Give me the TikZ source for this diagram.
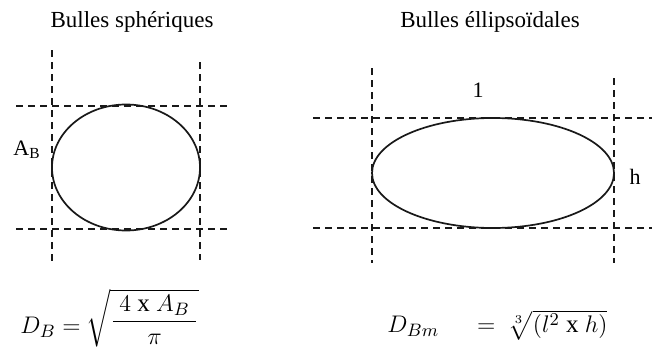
\documentclass[tikz,border=0pt]{standalone}
\usepackage{amsmath}
\usepackage{fontspec}
\setmainfont{Liberation Serif}
\usepackage{tikz}
\usetikzlibrary{arrows.meta, positioning, calc}

\tikzset{
  guide/.style={black!90, line width=0.6pt, dash pattern=on 3.5pt off 2.5pt},
  bubble/.style={line width=0.85pt, black!90},
  heading/.style={font=\fontsize{11.5}{13}\selectfont, inner sep=0pt},
  dimlabel/.style={font=\fontsize{11}{13}\selectfont, inner sep=1pt},
  formula/.style={font=\fontsize{12.5}{14}\selectfont, inner sep=0pt}
}

\begin{document}
\begin{tikzpicture}[>=Stealth, x=0.5pt, y=-0.5pt]
  \useasboundingbox (0,0) rectangle (652,354);

  % titles
  \node[heading] (tsph) at (132,22) {Bulles sphériques};
  \node[heading] (tell) at (490,22) {Bulles éllipsoïdales};

  % spherical bubble: guide lines
  \draw[guide] (52,50) -- (52,263);
  \draw[guide] (200,62) -- (200,260);
  \draw[guide] (16,106) -- (230,106);
  \draw[guide] (16,229) -- (230,229);

  % spherical bubble: outline
  \coordinate (csph) at (126,167.5);
  \draw[bubble] (csph) ellipse [x radius=37pt, y radius=31.5pt];
  \node[dimlabel] (AB) at (27,150) {$\mathrm{A_B}$};

  % ellipsoidal bubble: guide lines
  \draw[guide] (372,68) -- (372,263);
  \draw[guide] (614,78) -- (614,263);
  \draw[guide] (313,118) -- (652,118);
  \draw[guide] (313,228) -- (652,228);

  % ellipsoidal bubble: outline
  \coordinate (cell) at (493,173);
  \draw[bubble] (cell) ellipse [x radius=60.5pt, y radius=27.5pt];
  \node[dimlabel] (len) at (478,90) {1};
  \node[dimlabel] (hgt) at (635,177) {h};

  % equivalent diameters
  \node[formula, anchor=west] (DB) at (20,327) {$D_B =$};
  \node[formula, anchor=west] (DBroot) at (86,318)
    {$\sqrt{\dfrac{\;4\ \mathrm{x}\ A_B\;}{\pi}}$};
  \node[formula, anchor=west] (DBm) at (387,325) {$D_{Bm}\quad\ =\ \sqrt[3]{(l^2\ \mathrm{x}\ h)}$};
\end{tikzpicture}
\end{document}
